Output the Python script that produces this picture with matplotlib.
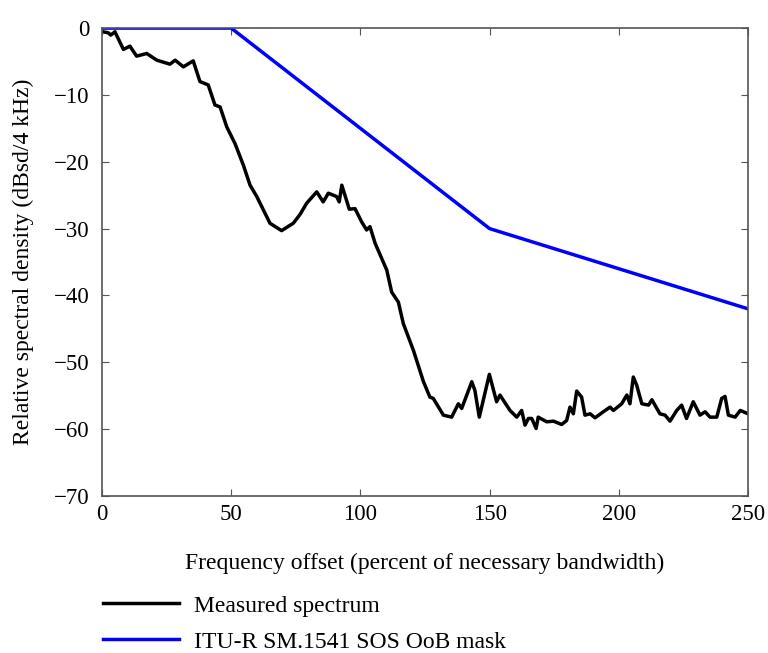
import matplotlib.pyplot as plt
import numpy as np

plt.rcParams['font.family'] = ['Liberation Serif', 'DejaVu Serif']

# measured spectrum
freq = [0.3, 2.4, 3.4, 5, 8.3, 10.8, 13.4, 17.3, 21.2, 26.3, 28.3, 31.5, 35.3,
        37.9, 41.1, 43.7, 45.7, 48.3, 51.5, 54.7, 57.3, 59.9, 65, 69.5, 74,
        76.6, 79.2, 83.1, 85.6, 87.6, 90.8, 91.8, 92.8, 95.7, 97.9, 100.5,
        102.4, 103.7, 105.7, 110.2, 112.1, 114.7, 116.6, 120.5, 124.4, 126.9,
        128.2, 132.1, 135.3, 137.9, 139.2, 143.1, 144.3, 146, 149.9, 152.7,
        154, 157.9, 160.5, 162.4, 163.7, 165, 166.3, 168, 168.8, 172.1, 174.7,
        177.9, 179.8, 181.1, 182.4, 183.7, 185.6, 186.9, 188.9, 190.8, 194,
        196.6, 197.9, 201.1, 203.1, 204.3, 205.6, 206.9, 208.9, 211.5, 212.8,
        215.9, 217.9, 219.8, 222.4, 224.3, 226.2, 228.8, 231.4, 233.4, 235.3,
        237.9, 239.8, 241.1, 242.4, 245, 247, 250]
measured = [-0.55, -0.7, -1.05, -0.55, -3.2, -2.7, -4.2, -3.8, -4.8, -5.4, -4.8,
            -5.8, -4.9, -8.0, -8.5, -11.5, -11.8, -14.8, -17.3, -20.5, -23.5,
            -25.2, -29.2, -30.3, -29.2, -27.9, -26.2, -24.5, -26.0, -24.7,
            -25.2, -26.0, -23.5, -27.1, -27.0, -29.0, -30.2, -29.7, -32.2,
            -36.2, -39.5, -41.0, -44.2, -48.2, -52.9, -55.2, -55.4, -57.9,
            -58.2, -56.2, -56.9, -52.9, -54.2, -58.2, -51.8, -55.9, -54.9,
            -57.2, -58.2, -57.2, -59.4, -58.4, -58.4, -59.9, -58.2, -58.9,
            -58.8, -59.3, -58.7, -56.7, -57.7, -54.3, -55.2, -57.9, -57.7,
            -58.3, -57.4, -56.7, -57.2, -56.2, -54.9, -56.2, -52.2, -53.4,
            -56.2, -56.4, -55.6, -57.7, -57.9, -58.8, -57.2, -56.4, -58.4,
            -55.9, -57.9, -57.4, -58.2, -58.2, -55.4, -55.1, -57.9, -58.2,
            -57.2, -57.7]

# SM.1541 mask
mask_freq = [0, 50, 150, 250]
mask_db = [0, 0, -30, -42]

fig = plt.figure(figsize=(7.68, 6.53), dpi=100)
ax = fig.add_axes([0.1328, 0.2404, 0.8412, 0.7166])

ax.plot(freq, measured, color='black', lw=2.5, label='Measured spectrum')
ax.plot(mask_freq, mask_db, color='#0000ff', lw=2.5,
        label='ITU-R SM.1541 SOS OoB mask')

ax.set_xlim(0, 250)
ax.set_ylim(-70, 0)
ax.set_xticks(np.arange(0, 251, 50))
ax.set_yticks(np.arange(-70, 1, 10))
ax.tick_params(direction='in', top=True, right=True, labelsize=16.5,
               length=5, color='#555555')
ax.tick_params(axis='x', pad=6)
ax.tick_params(axis='y', pad=9)
for s in ax.spines.values():
    s.set_color('#555555')
    s.set_linewidth(1.2)
ax.set_xlabel('Frequency offset (percent of necessary bandwidth)',
              fontsize=17, labelpad=20)
ax.set_ylabel('Relative spectral density (dBsd/4 kHz)', fontsize=17,
              labelpad=14)

fig.legend(loc='upper left', bbox_to_anchor=(103 / 768, 1 - 595 / 653),
           frameon=False, fontsize=17, borderpad=0, borderaxespad=0,
           handlelength=3.2, handletextpad=0.64, labelspacing=0.62)

fig.savefig('out.png', dpi=100)
